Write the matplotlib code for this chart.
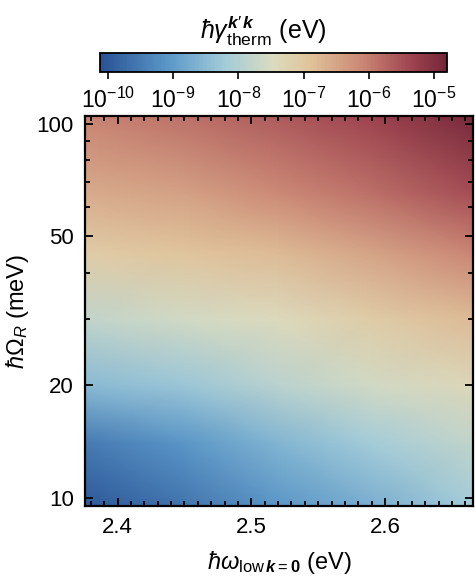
import numpy as np
import matplotlib
matplotlib.use("Agg")
import matplotlib.pyplot as plt
from matplotlib.colors import LinearSegmentedColormap, LogNorm
from matplotlib.ticker import FixedLocator, NullFormatter, FixedFormatter, MultipleLocator

plt.rcParams['font.family'] = ['Liberation Sans', 'DejaVu Sans']
plt.rcParams['mathtext.fontset'] = 'custom'
plt.rcParams['mathtext.rm'] = 'Liberation Sans'
plt.rcParams['mathtext.it'] = 'Liberation Sans:italic'
plt.rcParams['mathtext.bf'] = 'Liberation Sans:bold'
plt.rcParams['mathtext.bfit'] = 'Liberation Sans:bold:italic'

# lower polariton energy (eV), Rabi energy (meV), log10 rate (eV)
x_ev = [2.3756, 2.45, 2.52, 2.59, 2.6658]
omega_mev = [9.5, 14, 20, 30, 45, 65, 106]
log_gamma = [
    [-10.0, -9.6, -9.1, -8.7, -8.2],
    [-9.5, -9.1, -8.6, -8.2, -7.8],
    [-8.5, -8.3, -7.9, -7.6, -7.35],
    [-7.8, -7.6, -7.4, -7.1, -6.8],
    [-7.1, -6.95, -6.8, -6.5, -6.1],
    [-6.6, -6.45, -6.15, -5.85, -5.45],
    [-6.05, -5.85, -5.6, -5.3, -4.85],
]
cbar_ticks = [1e-10, 1e-9, 1e-8, 1e-7, 1e-6, 1e-5]

cmap = LinearSegmentedColormap.from_list("thermo", [
    (0.00, (0.16, 0.32, 0.58)),
    (0.20, (0.36, 0.60, 0.79)),
    (0.36, (0.64, 0.80, 0.85)),
    (0.50, (0.86, 0.86, 0.75)),
    (0.60, (0.88, 0.77, 0.61)),
    (0.75, (0.80, 0.54, 0.46)),
    (0.90, (0.62, 0.26, 0.31)),
    (1.00, (0.45, 0.15, 0.22)),
])
norm = LogNorm(vmin=10**-10.12, vmax=10**-4.8)

fig = plt.figure(figsize=(4.76, 5.8), dpi=100)
ax = fig.add_axes([0.1786, 0.1276, 0.8151, 0.6724])
cax = fig.add_axes([0.2101, 0.8759, 0.729, 0.0328])

X, Y = np.meshgrid(x_ev, omega_mev)
Z = 10.0 ** np.array(log_gamma)
mesh = ax.pcolormesh(X, Y, Z, shading='gouraud', cmap=cmap, norm=norm, rasterized=True)

ax.set_yscale('log')
ax.set_xlim(2.3756, 2.6658)
ax.set_ylim(9.5, 105)
ax.xaxis.set_major_locator(MultipleLocator(0.1))
ax.xaxis.set_minor_locator(MultipleLocator(0.01))
ax.yaxis.set_major_locator(FixedLocator([10, 20, 50, 100]))
ax.yaxis.set_major_formatter(FixedFormatter(['10', '20', '50', '100']))
ax.yaxis.set_minor_locator(FixedLocator([30, 40, 60, 70, 80, 90]))
ax.yaxis.set_minor_formatter(NullFormatter())
ax.tick_params(which='both', direction='in', top=True, right=True, width=1.3, labelsize=16)
ax.tick_params(which='major', length=6)
ax.tick_params(which='minor', length=3.5)
ax.tick_params(axis='x', pad=8)
ax.tick_params(axis='y', pad=8)
for s in ax.spines.values():
    s.set_linewidth(1.6)

ax.set_xlabel(r'$\hbar\omega_{\mathrm{low}\,\boldsymbol{k}=\mathbf{0}}$ (eV)', fontsize=17, labelpad=8)
ax.set_ylabel(r'$\hbar\Omega_R$ (meV)', fontsize=17, labelpad=4)

cb = fig.colorbar(mesh, cax=cax, orientation='horizontal')
cb.set_ticks(cbar_ticks)
cb.ax.xaxis.set_minor_locator(FixedLocator([]))
cb.ax.tick_params(which='major', direction='out', length=5, width=1.2, labelsize=16.5, pad=6)
cb.outline.set_linewidth(1.3)
cb.ax.xaxis.set_label_position('top')
cb.set_label(r'$\hbar\gamma^{\boldsymbol{k}{\prime}\,\boldsymbol{k}}_{\mathrm{therm}}$ (eV)', fontsize=18, labelpad=10)
cb.ax.xaxis.label.set_x(0.47)

fig.savefig('out.png', dpi=100)
